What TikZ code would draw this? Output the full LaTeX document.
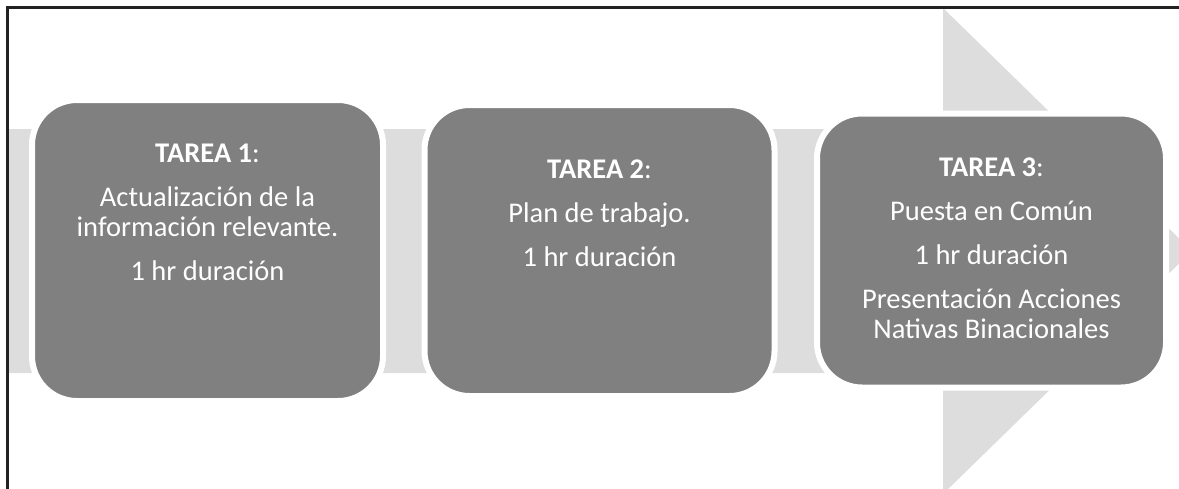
\documentclass[tikz,border=0pt]{standalone}
\usepackage{fontspec}
\setmainfont{Carlito}
\usepackage{tikz}

\definecolor{flecha}{HTML}{DDDDDD}
\definecolor{caja}{HTML}{808080}
\definecolor{marco}{HTML}{222222}

\begin{document}
\begin{tikzpicture}[x=1pt,y=-1pt,
  main/.style = {draw=white, line width=6pt, fill=caja, rounded corners=45pt, outer sep=0pt},
  txt/.style = {text=white, align=center, anchor=north, inner sep=0pt,
    font=\fontsize{28.5}{30}\selectfont},
  node distance={392pt}]
\useasboundingbox (0,0) rectangle (1179,488);
\clip (0,0) rectangle (1179,488);
% flecha de fondo
\fill[flecha] (8,129) -- (943,129) -- (943,8) -- (1192,251) -- (943,494) -- (943,373) -- (8,373) -- cycle;
% marco
\draw[marco, line width=2.2pt] (7.5,500) -- (7.5,7.5) -- (1190,7.5);
% tareas
\node[main, minimum width=351pt, minimum height=301pt] (1) at (207.5,250.5) {};
\node[main, minimum width=350pt, minimum height=291pt] (2) [right of=1] {};
\node[main, minimum width=349pt, minimum height=274pt] (3) [right of=2] {};
\node[txt] (1t) at ([yshift=-43.6pt]1.north) {{\bfseries TAREA 1}:\\[14pt]
  Actualización de la\\ información relevante.\\[14pt] 1 hr duración};
\node[txt] (2t) at ([yshift=-54.6pt]2.north) {{\bfseries TAREA 2}:\\[14pt]
  Plan de trabajo.\\[14pt] 1 hr duración};
\node[txt] (3t) at ([yshift=-44.6pt]3.north) {{\bfseries TAREA 3}:\\[14pt]
  Puesta en Común\\[14pt] 1 hr duración\\[14pt]
  Presentación Acciones\\ Nativas Binacionales};
\end{tikzpicture}
\end{document}
